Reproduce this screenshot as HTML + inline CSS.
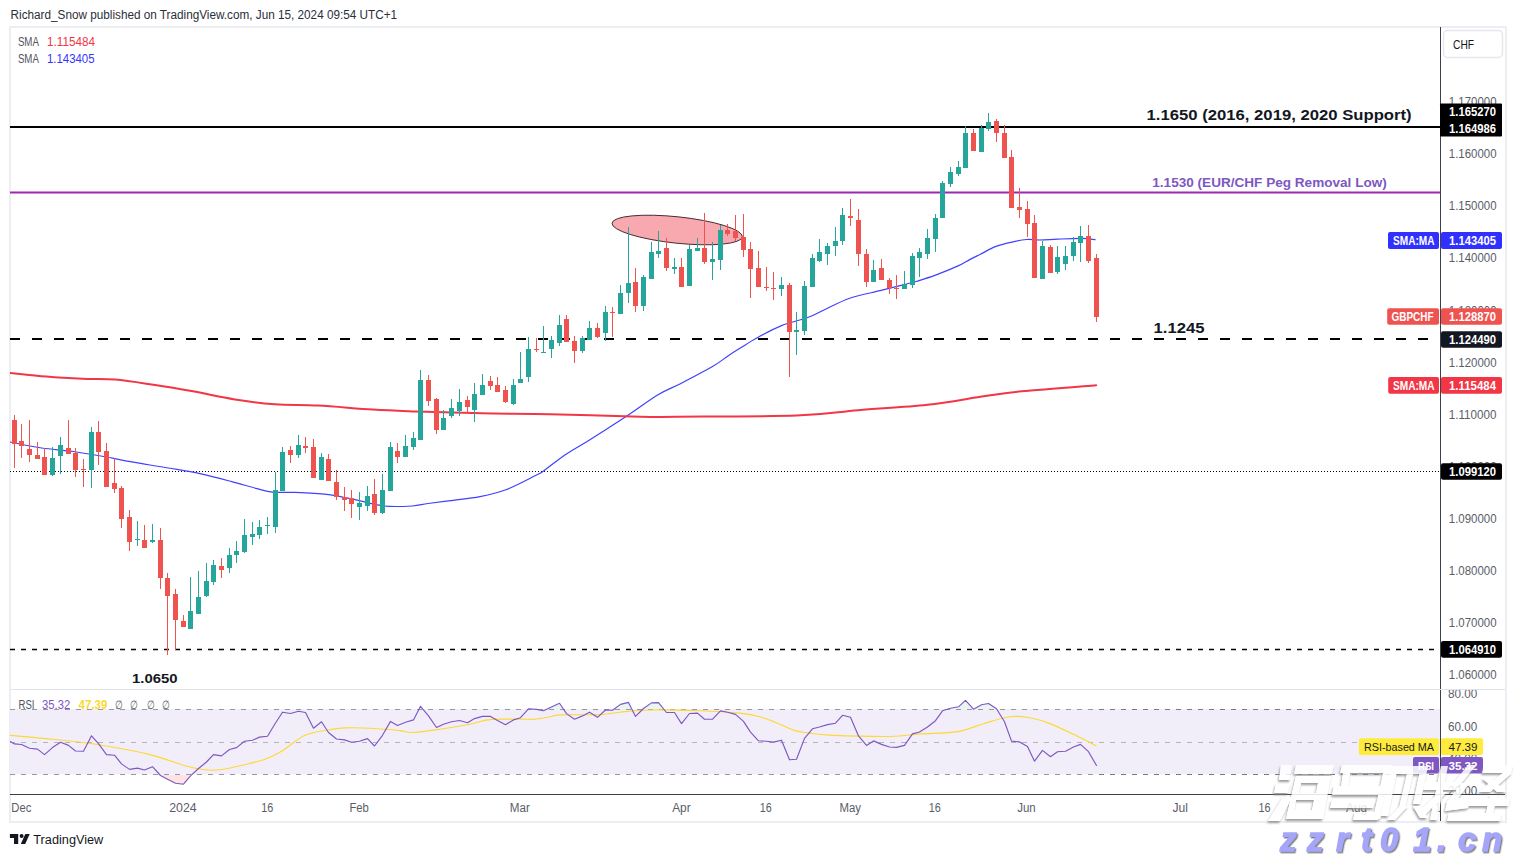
<!DOCTYPE html>
<html><head><meta charset="utf-8"><title>GBPCHF</title>
<style>html,body{margin:0;padding:0;background:#fff;width:1516px;height:857px;overflow:hidden;position:relative}</style>
</head><body>
<svg width="1516" height="857" viewBox="0 0 1516 857" style="position:absolute;left:0;top:0;font-family:'Liberation Sans', sans-serif">
<rect width="1516" height="857" fill="#ffffff"/>
<text x="10.6" y="18.9" font-size="12" fill="#2a2e39" font-weight="normal" text-anchor="start" textLength="386.5" lengthAdjust="spacingAndGlyphs">Richard_Snow published on TradingView.com, Jun 15, 2024 09:54 UTC+1</text>
<rect x="10" y="27" width="1496" height="795" fill="none" stroke="#eceef3" stroke-width="2"/>
<defs><clipPath id="main"><rect x="10" y="28" width="1430" height="661"/></clipPath><clipPath id="rsi"><rect x="10" y="690" width="1430" height="104"/></clipPath></defs>
<g clip-path="url(#main)">
<line x1="10" y1="127" x2="1440" y2="127" stroke="#000" stroke-width="2"/>
<line x1="10" y1="192.5" x2="1440" y2="192.5" stroke="#9c27b0" stroke-width="2"/>
<line x1="10" y1="339" x2="1440" y2="339" stroke="#000" stroke-width="2" stroke-dasharray="10 12"/>
<line x1="10" y1="471.5" x2="1440" y2="471.5" stroke="#000" stroke-width="1" stroke-dasharray="1 2"/>
<line x1="10" y1="649.5" x2="1440" y2="649.5" stroke="#000" stroke-width="1.6" stroke-dasharray="5 6"/>
<ellipse cx="677.2" cy="230" rx="65.5" ry="13.2" transform="rotate(6 677.2 230)" fill="#f8a9b0" stroke="#3b2226" stroke-width="0.9"/>
<path d="M10.0,442.0 C15.3,443.0 31.2,446.4 41.7,448.0 C52.2,449.6 61.7,449.9 73.3,451.5 C84.9,453.1 101.8,456.2 111.3,457.9 C120.8,459.6 120.8,460.0 130.3,461.7 C139.8,463.4 156.7,466.0 168.3,468.0 C179.9,470.0 189.4,471.4 200.0,473.7 C210.6,476.0 222.2,479.1 231.7,481.6 C241.2,484.1 250.2,486.9 257.0,488.6 C263.9,490.4 266.5,491.5 272.8,492.1 C279.1,492.7 286.0,492.0 295.0,492.4 C304.0,492.8 318.8,493.5 326.7,494.3 C334.6,495.1 337.2,496.1 342.5,497.1 C347.8,498.1 351.4,498.8 358.3,500.3 C365.2,501.8 374.7,505.1 383.7,506.0 C392.7,506.9 404.8,506.4 412.2,506.0 C419.6,505.6 421.1,504.4 428.0,503.5 C434.9,502.6 444.6,501.4 453.3,500.3 C462.0,499.2 471.2,498.4 480.0,496.7 C488.8,494.9 496.5,493.3 505.8,489.8 C515.1,486.3 529.3,478.6 535.6,475.5 C541.9,472.4 538.5,474.5 543.5,471.0 C548.5,467.5 557.7,459.8 565.3,454.7 C572.9,449.6 578.9,446.6 589.1,440.2 C599.4,433.8 615.4,423.5 626.8,416.0 C638.2,408.5 648.7,400.4 657.6,395.0 C666.5,389.6 671.3,388.4 680.4,383.7 C689.5,379.0 704.2,371.4 712.1,366.8 C720.0,362.2 723.4,359.0 728.0,355.9 C732.6,352.8 735.1,351.3 740.0,348.3 C744.9,345.3 750.2,341.6 757.1,337.8 C764.0,334.0 773.0,329.0 781.5,325.6 C790.0,322.2 801.0,320.0 808.3,317.3 C815.6,314.6 818.5,312.4 825.4,309.2 C832.3,306.0 840.7,301.3 849.8,298.2 C858.9,295.1 871.5,292.8 880.0,290.7 C888.5,288.6 895.0,287.0 901.1,285.4 C907.2,283.8 911.3,282.9 916.9,281.2 C922.5,279.5 928.0,277.9 934.9,275.4 C941.8,272.8 952.3,268.5 958.1,265.9 C963.9,263.3 966.0,261.5 969.7,259.6 C973.4,257.7 975.9,256.5 980.3,254.3 C984.7,252.1 990.8,248.4 996.1,246.4 C1001.4,244.4 1006.8,243.2 1011.9,242.1 C1017.0,240.9 1022.0,239.8 1026.7,239.5 C1031.4,239.2 1034.9,240.1 1040.0,240.0 C1045.1,239.9 1050.3,239.5 1057.3,239.2 C1064.2,238.9 1075.4,238.3 1081.7,238.4 C1088.0,238.5 1092.9,239.4 1095.1,239.6" fill="none" stroke="#4040ff" stroke-width="1.2" stroke-linecap="round"/>
<path d="M10.0,373.0 C16.1,373.6 34.2,375.6 46.3,376.6 C58.4,377.6 71.1,378.3 82.6,378.8 C94.1,379.3 103.1,378.5 115.2,379.5 C127.3,380.5 142.4,383.1 155.1,385.0 C167.8,386.9 178.1,388.7 191.4,391.1 C204.7,393.5 221.1,397.3 235.0,399.5 C248.9,401.7 261.0,403.2 274.9,404.2 C288.8,405.2 302.1,404.7 318.4,405.6 C334.7,406.5 356.5,408.6 372.8,409.6 C389.1,410.6 398.2,410.8 416.4,411.4 C434.5,412.0 459.4,412.8 481.7,413.3 C504.0,413.8 523.5,413.6 550.0,414.2 C576.5,414.8 619.5,416.3 640.7,416.7 C661.9,417.1 651.0,416.9 677.0,416.7 C703.0,416.5 766.5,416.7 796.7,415.6 C826.9,414.5 836.6,412.0 858.4,410.2 C880.2,408.4 906.2,407.2 927.4,404.8 C948.6,402.4 969.7,398.2 985.4,396.0 C1001.1,393.8 1003.2,393.1 1021.7,391.3 C1040.2,389.5 1083.7,386.2 1096.1,385.2" fill="none" stroke="#f23645" stroke-width="2" stroke-linecap="round"/>
<rect x="14" y="415" width="1" height="53" fill="#ef5350"/>
<rect x="12" y="420" width="5" height="24" fill="#ef5350"/>
<rect x="21" y="424" width="1" height="34" fill="#ef5350"/>
<rect x="19" y="441" width="5" height="5" fill="#ef5350"/>
<rect x="29" y="420" width="1" height="42" fill="#ef5350"/>
<rect x="27" y="449" width="5" height="6" fill="#ef5350"/>
<rect x="37" y="442" width="1" height="17" fill="#ef5350"/>
<rect x="35" y="455" width="5" height="4" fill="#ef5350"/>
<rect x="44" y="448" width="1" height="27" fill="#ef5350"/>
<rect x="42" y="457" width="5" height="18" fill="#ef5350"/>
<rect x="52" y="447" width="1" height="29" fill="#26a69a"/>
<rect x="50" y="458" width="5" height="17" fill="#26a69a"/>
<rect x="60" y="437" width="1" height="37" fill="#26a69a"/>
<rect x="58" y="445" width="5" height="11" fill="#26a69a"/>
<rect x="68" y="420" width="1" height="34" fill="#ef5350"/>
<rect x="66" y="448" width="5" height="6" fill="#ef5350"/>
<rect x="75" y="448" width="1" height="29" fill="#ef5350"/>
<rect x="73" y="453" width="5" height="17" fill="#ef5350"/>
<rect x="83" y="459" width="1" height="28" fill="#ef5350"/>
<rect x="81" y="469" width="5" height="1" fill="#ef5350"/>
<rect x="91" y="427" width="1" height="61" fill="#26a69a"/>
<rect x="89" y="432" width="5" height="38" fill="#26a69a"/>
<rect x="98" y="421" width="1" height="44" fill="#ef5350"/>
<rect x="96" y="432" width="5" height="20" fill="#ef5350"/>
<rect x="106" y="443" width="1" height="44" fill="#ef5350"/>
<rect x="104" y="451" width="5" height="36" fill="#ef5350"/>
<rect x="114" y="458" width="1" height="35" fill="#ef5350"/>
<rect x="112" y="483" width="5" height="6" fill="#ef5350"/>
<rect x="121" y="486" width="1" height="42" fill="#ef5350"/>
<rect x="119" y="488" width="5" height="31" fill="#ef5350"/>
<rect x="129" y="510" width="1" height="41" fill="#ef5350"/>
<rect x="127" y="517" width="5" height="25" fill="#ef5350"/>
<rect x="137" y="521" width="1" height="25" fill="#26a69a"/>
<rect x="135" y="539" width="5" height="1" fill="#26a69a"/>
<rect x="144" y="525" width="1" height="23" fill="#ef5350"/>
<rect x="142" y="540" width="5" height="8" fill="#ef5350"/>
<rect x="152" y="524" width="1" height="19" fill="#26a69a"/>
<rect x="150" y="540" width="5" height="2" fill="#26a69a"/>
<rect x="160" y="528" width="1" height="61" fill="#ef5350"/>
<rect x="158" y="540" width="5" height="38" fill="#ef5350"/>
<rect x="167" y="573" width="1" height="82" fill="#ef5350"/>
<rect x="165" y="578" width="5" height="18" fill="#ef5350"/>
<rect x="175" y="589" width="1" height="61" fill="#ef5350"/>
<rect x="173" y="594" width="5" height="26" fill="#ef5350"/>
<rect x="183" y="615" width="1" height="12" fill="#ef5350"/>
<rect x="181" y="621" width="5" height="6" fill="#ef5350"/>
<rect x="190" y="577" width="1" height="52" fill="#26a69a"/>
<rect x="188" y="611" width="5" height="18" fill="#26a69a"/>
<rect x="198" y="571" width="1" height="43" fill="#26a69a"/>
<rect x="196" y="597" width="5" height="17" fill="#26a69a"/>
<rect x="206" y="563" width="1" height="34" fill="#26a69a"/>
<rect x="204" y="581" width="5" height="15" fill="#26a69a"/>
<rect x="213" y="560" width="1" height="25" fill="#26a69a"/>
<rect x="211" y="565" width="5" height="17" fill="#26a69a"/>
<rect x="221" y="558" width="1" height="20" fill="#ef5350"/>
<rect x="219" y="566" width="5" height="4" fill="#ef5350"/>
<rect x="229" y="548" width="1" height="25" fill="#26a69a"/>
<rect x="227" y="555" width="5" height="13" fill="#26a69a"/>
<rect x="236" y="541" width="1" height="22" fill="#26a69a"/>
<rect x="234" y="551" width="5" height="4" fill="#26a69a"/>
<rect x="244" y="519" width="1" height="34" fill="#26a69a"/>
<rect x="242" y="535" width="5" height="17" fill="#26a69a"/>
<rect x="252" y="522" width="1" height="23" fill="#26a69a"/>
<rect x="250" y="534" width="5" height="3" fill="#26a69a"/>
<rect x="259" y="520" width="1" height="19" fill="#26a69a"/>
<rect x="257" y="527" width="5" height="8" fill="#26a69a"/>
<rect x="267" y="517" width="1" height="17" fill="#26a69a"/>
<rect x="265" y="525" width="5" height="1" fill="#26a69a"/>
<rect x="275" y="472" width="1" height="61" fill="#26a69a"/>
<rect x="273" y="490" width="5" height="37" fill="#26a69a"/>
<rect x="282" y="447" width="1" height="44" fill="#26a69a"/>
<rect x="280" y="452" width="5" height="39" fill="#26a69a"/>
<rect x="290" y="446" width="1" height="17" fill="#ef5350"/>
<rect x="288" y="450" width="5" height="5" fill="#ef5350"/>
<rect x="298" y="435" width="1" height="23" fill="#26a69a"/>
<rect x="296" y="445" width="5" height="10" fill="#26a69a"/>
<rect x="305" y="437" width="1" height="16" fill="#ef5350"/>
<rect x="303" y="446" width="5" height="2" fill="#ef5350"/>
<rect x="313" y="439" width="1" height="39" fill="#ef5350"/>
<rect x="311" y="447" width="5" height="31" fill="#ef5350"/>
<rect x="321" y="453" width="1" height="27" fill="#26a69a"/>
<rect x="319" y="457" width="5" height="23" fill="#26a69a"/>
<rect x="328" y="454" width="1" height="27" fill="#ef5350"/>
<rect x="326" y="459" width="5" height="22" fill="#ef5350"/>
<rect x="336" y="470" width="1" height="30" fill="#ef5350"/>
<rect x="334" y="482" width="5" height="15" fill="#ef5350"/>
<rect x="344" y="487" width="1" height="24" fill="#ef5350"/>
<rect x="342" y="497" width="5" height="3" fill="#ef5350"/>
<rect x="351" y="490" width="1" height="28" fill="#ef5350"/>
<rect x="349" y="498" width="5" height="6" fill="#ef5350"/>
<rect x="359" y="492" width="1" height="28" fill="#26a69a"/>
<rect x="357" y="503" width="5" height="4" fill="#26a69a"/>
<rect x="367" y="486" width="1" height="25" fill="#26a69a"/>
<rect x="365" y="496" width="5" height="10" fill="#26a69a"/>
<rect x="374" y="479" width="1" height="36" fill="#ef5350"/>
<rect x="372" y="494" width="5" height="19" fill="#ef5350"/>
<rect x="382" y="474" width="1" height="40" fill="#26a69a"/>
<rect x="380" y="490" width="5" height="23" fill="#26a69a"/>
<rect x="390" y="442" width="1" height="49" fill="#26a69a"/>
<rect x="388" y="447" width="5" height="44" fill="#26a69a"/>
<rect x="397" y="443" width="1" height="20" fill="#ef5350"/>
<rect x="395" y="451" width="5" height="6" fill="#ef5350"/>
<rect x="405" y="435" width="1" height="22" fill="#26a69a"/>
<rect x="403" y="446" width="5" height="11" fill="#26a69a"/>
<rect x="413" y="432" width="1" height="18" fill="#26a69a"/>
<rect x="411" y="438" width="5" height="9" fill="#26a69a"/>
<rect x="420" y="370" width="1" height="70" fill="#26a69a"/>
<rect x="418" y="380" width="5" height="60" fill="#26a69a"/>
<rect x="428" y="375" width="1" height="31" fill="#ef5350"/>
<rect x="426" y="380" width="5" height="21" fill="#ef5350"/>
<rect x="436" y="398" width="1" height="36" fill="#ef5350"/>
<rect x="434" y="399" width="5" height="31" fill="#ef5350"/>
<rect x="443" y="410" width="1" height="20" fill="#26a69a"/>
<rect x="441" y="418" width="5" height="12" fill="#26a69a"/>
<rect x="451" y="399" width="1" height="19" fill="#26a69a"/>
<rect x="449" y="408" width="5" height="8" fill="#26a69a"/>
<rect x="459" y="389" width="1" height="27" fill="#26a69a"/>
<rect x="457" y="402" width="5" height="9" fill="#26a69a"/>
<rect x="467" y="396" width="1" height="18" fill="#ef5350"/>
<rect x="465" y="400" width="5" height="7" fill="#ef5350"/>
<rect x="474" y="383" width="1" height="39" fill="#26a69a"/>
<rect x="472" y="394" width="5" height="16" fill="#26a69a"/>
<rect x="482" y="374" width="1" height="21" fill="#26a69a"/>
<rect x="480" y="385" width="5" height="10" fill="#26a69a"/>
<rect x="490" y="376" width="1" height="14" fill="#ef5350"/>
<rect x="488" y="381" width="5" height="5" fill="#ef5350"/>
<rect x="497" y="377" width="1" height="15" fill="#ef5350"/>
<rect x="495" y="385" width="5" height="7" fill="#ef5350"/>
<rect x="505" y="386" width="1" height="17" fill="#ef5350"/>
<rect x="503" y="390" width="5" height="12" fill="#ef5350"/>
<rect x="513" y="379" width="1" height="26" fill="#26a69a"/>
<rect x="511" y="385" width="5" height="19" fill="#26a69a"/>
<rect x="520" y="352" width="1" height="31" fill="#26a69a"/>
<rect x="518" y="379" width="5" height="4" fill="#26a69a"/>
<rect x="528" y="337" width="1" height="45" fill="#26a69a"/>
<rect x="526" y="349" width="5" height="28" fill="#26a69a"/>
<rect x="536" y="338" width="1" height="14" fill="#ef5350"/>
<rect x="534" y="349" width="5" height="1" fill="#ef5350"/>
<rect x="543" y="326" width="1" height="27" fill="#26a69a"/>
<rect x="541" y="352" width="5" height="1" fill="#26a69a"/>
<rect x="551" y="336" width="1" height="22" fill="#26a69a"/>
<rect x="549" y="340" width="5" height="9" fill="#26a69a"/>
<rect x="559" y="315" width="1" height="31" fill="#26a69a"/>
<rect x="557" y="325" width="5" height="18" fill="#26a69a"/>
<rect x="566" y="315" width="1" height="27" fill="#ef5350"/>
<rect x="564" y="319" width="5" height="23" fill="#ef5350"/>
<rect x="574" y="336" width="1" height="27" fill="#ef5350"/>
<rect x="572" y="341" width="5" height="10" fill="#ef5350"/>
<rect x="582" y="336" width="1" height="17" fill="#26a69a"/>
<rect x="580" y="338" width="5" height="13" fill="#26a69a"/>
<rect x="589" y="321" width="1" height="19" fill="#26a69a"/>
<rect x="587" y="328" width="5" height="12" fill="#26a69a"/>
<rect x="597" y="323" width="1" height="15" fill="#ef5350"/>
<rect x="595" y="328" width="5" height="9" fill="#ef5350"/>
<rect x="605" y="306" width="1" height="35" fill="#26a69a"/>
<rect x="603" y="312" width="5" height="21" fill="#26a69a"/>
<rect x="612" y="307" width="1" height="30" fill="#ef5350"/>
<rect x="610" y="312" width="5" height="1" fill="#ef5350"/>
<rect x="620" y="285" width="1" height="29" fill="#26a69a"/>
<rect x="618" y="293" width="5" height="21" fill="#26a69a"/>
<rect x="628" y="227" width="1" height="76" fill="#26a69a"/>
<rect x="626" y="283" width="5" height="10" fill="#26a69a"/>
<rect x="635" y="268" width="1" height="44" fill="#ef5350"/>
<rect x="633" y="282" width="5" height="24" fill="#ef5350"/>
<rect x="643" y="275" width="1" height="36" fill="#26a69a"/>
<rect x="641" y="277" width="5" height="29" fill="#26a69a"/>
<rect x="651" y="242" width="1" height="37" fill="#26a69a"/>
<rect x="649" y="252" width="5" height="27" fill="#26a69a"/>
<rect x="658" y="231" width="1" height="27" fill="#26a69a"/>
<rect x="656" y="251" width="5" height="3" fill="#26a69a"/>
<rect x="666" y="238" width="1" height="33" fill="#ef5350"/>
<rect x="664" y="248" width="5" height="20" fill="#ef5350"/>
<rect x="674" y="258" width="1" height="16" fill="#26a69a"/>
<rect x="672" y="267" width="5" height="2" fill="#26a69a"/>
<rect x="681" y="258" width="1" height="29" fill="#ef5350"/>
<rect x="679" y="267" width="5" height="20" fill="#ef5350"/>
<rect x="689" y="245" width="1" height="41" fill="#26a69a"/>
<rect x="687" y="249" width="5" height="37" fill="#26a69a"/>
<rect x="697" y="238" width="1" height="13" fill="#26a69a"/>
<rect x="695" y="248" width="5" height="3" fill="#26a69a"/>
<rect x="704" y="213" width="1" height="51" fill="#ef5350"/>
<rect x="702" y="248" width="5" height="14" fill="#ef5350"/>
<rect x="712" y="242" width="1" height="38" fill="#26a69a"/>
<rect x="710" y="259" width="5" height="3" fill="#26a69a"/>
<rect x="720" y="225" width="1" height="45" fill="#26a69a"/>
<rect x="718" y="230" width="5" height="30" fill="#26a69a"/>
<rect x="727" y="224" width="1" height="12" fill="#ef5350"/>
<rect x="725" y="230" width="5" height="4" fill="#ef5350"/>
<rect x="735" y="215" width="1" height="26" fill="#ef5350"/>
<rect x="733" y="231" width="5" height="7" fill="#ef5350"/>
<rect x="743" y="214" width="1" height="43" fill="#ef5350"/>
<rect x="741" y="237" width="5" height="13" fill="#ef5350"/>
<rect x="750" y="242" width="1" height="56" fill="#ef5350"/>
<rect x="748" y="249" width="5" height="20" fill="#ef5350"/>
<rect x="758" y="251" width="1" height="36" fill="#ef5350"/>
<rect x="756" y="268" width="5" height="19" fill="#ef5350"/>
<rect x="766" y="267" width="1" height="24" fill="#ef5350"/>
<rect x="764" y="287" width="5" height="1" fill="#ef5350"/>
<rect x="773" y="272" width="1" height="28" fill="#ef5350"/>
<rect x="771" y="288" width="5" height="1" fill="#ef5350"/>
<rect x="781" y="277" width="1" height="19" fill="#26a69a"/>
<rect x="779" y="285" width="5" height="4" fill="#26a69a"/>
<rect x="789" y="283" width="1" height="94" fill="#ef5350"/>
<rect x="787" y="285" width="5" height="47" fill="#ef5350"/>
<rect x="796" y="312" width="1" height="43" fill="#26a69a"/>
<rect x="794" y="330" width="5" height="2" fill="#26a69a"/>
<rect x="804" y="281" width="1" height="54" fill="#26a69a"/>
<rect x="802" y="286" width="5" height="45" fill="#26a69a"/>
<rect x="812" y="254" width="1" height="33" fill="#26a69a"/>
<rect x="810" y="258" width="5" height="29" fill="#26a69a"/>
<rect x="819" y="239" width="1" height="23" fill="#26a69a"/>
<rect x="817" y="252" width="5" height="9" fill="#26a69a"/>
<rect x="827" y="243" width="1" height="22" fill="#26a69a"/>
<rect x="825" y="246" width="5" height="8" fill="#26a69a"/>
<rect x="835" y="227" width="1" height="29" fill="#26a69a"/>
<rect x="833" y="241" width="5" height="5" fill="#26a69a"/>
<rect x="842" y="208" width="1" height="37" fill="#26a69a"/>
<rect x="840" y="215" width="5" height="26" fill="#26a69a"/>
<rect x="850" y="199" width="1" height="27" fill="#ef5350"/>
<rect x="848" y="216" width="5" height="2" fill="#ef5350"/>
<rect x="858" y="209" width="1" height="57" fill="#ef5350"/>
<rect x="856" y="220" width="5" height="34" fill="#ef5350"/>
<rect x="866" y="249" width="1" height="38" fill="#ef5350"/>
<rect x="864" y="254" width="5" height="28" fill="#ef5350"/>
<rect x="873" y="260" width="1" height="22" fill="#26a69a"/>
<rect x="871" y="270" width="5" height="12" fill="#26a69a"/>
<rect x="881" y="259" width="1" height="21" fill="#ef5350"/>
<rect x="879" y="268" width="5" height="12" fill="#ef5350"/>
<rect x="889" y="278" width="1" height="16" fill="#ef5350"/>
<rect x="887" y="280" width="5" height="8" fill="#ef5350"/>
<rect x="896" y="275" width="1" height="24" fill="#ef5350"/>
<rect x="894" y="288" width="5" height="1" fill="#ef5350"/>
<rect x="904" y="271" width="1" height="18" fill="#26a69a"/>
<rect x="902" y="284" width="5" height="5" fill="#26a69a"/>
<rect x="912" y="253" width="1" height="35" fill="#26a69a"/>
<rect x="910" y="256" width="5" height="29" fill="#26a69a"/>
<rect x="919" y="248" width="1" height="29" fill="#26a69a"/>
<rect x="917" y="252" width="5" height="6" fill="#26a69a"/>
<rect x="927" y="229" width="1" height="30" fill="#26a69a"/>
<rect x="925" y="238" width="5" height="16" fill="#26a69a"/>
<rect x="935" y="214" width="1" height="38" fill="#26a69a"/>
<rect x="933" y="218" width="5" height="21" fill="#26a69a"/>
<rect x="942" y="181" width="1" height="37" fill="#26a69a"/>
<rect x="940" y="183" width="5" height="35" fill="#26a69a"/>
<rect x="950" y="167" width="1" height="20" fill="#26a69a"/>
<rect x="948" y="172" width="5" height="12" fill="#26a69a"/>
<rect x="958" y="161" width="1" height="15" fill="#26a69a"/>
<rect x="956" y="167" width="5" height="7" fill="#26a69a"/>
<rect x="965" y="126" width="1" height="42" fill="#26a69a"/>
<rect x="963" y="133" width="5" height="35" fill="#26a69a"/>
<rect x="973" y="129" width="1" height="22" fill="#ef5350"/>
<rect x="971" y="133" width="5" height="18" fill="#ef5350"/>
<rect x="981" y="125" width="1" height="27" fill="#26a69a"/>
<rect x="979" y="128" width="5" height="24" fill="#26a69a"/>
<rect x="988" y="113" width="1" height="18" fill="#26a69a"/>
<rect x="986" y="122" width="5" height="7" fill="#26a69a"/>
<rect x="996" y="119" width="1" height="23" fill="#ef5350"/>
<rect x="994" y="121" width="5" height="12" fill="#ef5350"/>
<rect x="1004" y="125" width="1" height="33" fill="#ef5350"/>
<rect x="1002" y="133" width="5" height="25" fill="#ef5350"/>
<rect x="1011" y="150" width="1" height="58" fill="#ef5350"/>
<rect x="1009" y="157" width="5" height="51" fill="#ef5350"/>
<rect x="1019" y="188" width="1" height="30" fill="#ef5350"/>
<rect x="1017" y="207" width="5" height="3" fill="#ef5350"/>
<rect x="1027" y="201" width="1" height="36" fill="#ef5350"/>
<rect x="1025" y="209" width="5" height="15" fill="#ef5350"/>
<rect x="1034" y="215" width="1" height="63" fill="#ef5350"/>
<rect x="1032" y="223" width="5" height="55" fill="#ef5350"/>
<rect x="1042" y="241" width="1" height="38" fill="#26a69a"/>
<rect x="1040" y="246" width="5" height="33" fill="#26a69a"/>
<rect x="1050" y="245" width="1" height="28" fill="#ef5350"/>
<rect x="1048" y="247" width="5" height="26" fill="#ef5350"/>
<rect x="1057" y="246" width="1" height="28" fill="#26a69a"/>
<rect x="1055" y="257" width="5" height="15" fill="#26a69a"/>
<rect x="1065" y="246" width="1" height="24" fill="#26a69a"/>
<rect x="1063" y="256" width="5" height="8" fill="#26a69a"/>
<rect x="1073" y="237" width="1" height="24" fill="#26a69a"/>
<rect x="1071" y="242" width="5" height="14" fill="#26a69a"/>
<rect x="1080" y="226" width="1" height="36" fill="#26a69a"/>
<rect x="1078" y="236" width="5" height="7" fill="#26a69a"/>
<rect x="1088" y="225" width="1" height="38" fill="#ef5350"/>
<rect x="1086" y="236" width="5" height="25" fill="#ef5350"/>
<rect x="1096" y="254" width="1" height="68" fill="#ef5350"/>
<rect x="1094" y="258" width="5" height="59" fill="#ef5350"/>
</g>
<text x="1146.6" y="120" font-size="14" fill="#131722" font-weight="bold" text-anchor="start" textLength="265" lengthAdjust="spacingAndGlyphs">1.1650 (2016, 2019, 2020 Support)</text>
<text x="1152.3" y="187" font-size="13.5" fill="#7e57c2" font-weight="bold" text-anchor="start" textLength="234.5" lengthAdjust="spacingAndGlyphs">1.1530 (EUR/CHF Peg Removal Low)</text>
<text x="1153.5" y="333" font-size="15" fill="#131722" font-weight="bold" text-anchor="start" textLength="51" lengthAdjust="spacingAndGlyphs">1.1245</text>
<text x="132" y="682.8" font-size="13" fill="#131722" font-weight="bold" text-anchor="start" textLength="45.5" lengthAdjust="spacingAndGlyphs">1.0650</text>
<text x="17.9" y="46.2" font-size="12" fill="#50535e" font-weight="normal" text-anchor="start" textLength="21" lengthAdjust="spacingAndGlyphs">SMA</text>
<text x="47" y="46.2" font-size="12" fill="#f23645" font-weight="normal" text-anchor="start" textLength="48" lengthAdjust="spacingAndGlyphs">1.115484</text>
<text x="17.9" y="62.5" font-size="12" fill="#50535e" font-weight="normal" text-anchor="start" textLength="21" lengthAdjust="spacingAndGlyphs">SMA</text>
<text x="47" y="62.5" font-size="12" fill="#3434ff" font-weight="normal" text-anchor="start" textLength="47.5" lengthAdjust="spacingAndGlyphs">1.143405</text>
<line x1="1440.5" y1="27" x2="1440.5" y2="821" stroke="#3d404a" stroke-width="1"/>
<rect x="1443.5" y="30.5" width="59" height="27" rx="4" fill="#fff" stroke="#e6e8ee" stroke-width="1.5"/>
<text x="1453" y="49" font-size="12" fill="#131722" font-weight="normal" text-anchor="start" textLength="21" lengthAdjust="spacingAndGlyphs">CHF</text>
<text x="1448.8" y="679.3" font-size="13" fill="#5a5d68" font-weight="normal" text-anchor="start" textLength="47.7" lengthAdjust="spacingAndGlyphs">1.060000</text>
<text x="1448.8" y="627.2" font-size="13" fill="#5a5d68" font-weight="normal" text-anchor="start" textLength="47.7" lengthAdjust="spacingAndGlyphs">1.070000</text>
<text x="1448.8" y="575.1" font-size="13" fill="#5a5d68" font-weight="normal" text-anchor="start" textLength="47.7" lengthAdjust="spacingAndGlyphs">1.080000</text>
<text x="1448.8" y="522.9" font-size="13" fill="#5a5d68" font-weight="normal" text-anchor="start" textLength="47.7" lengthAdjust="spacingAndGlyphs">1.090000</text>
<text x="1448.8" y="470.8" font-size="13" fill="#5a5d68" font-weight="normal" text-anchor="start" textLength="47.7" lengthAdjust="spacingAndGlyphs">1.100000</text>
<text x="1448.8" y="418.7" font-size="13" fill="#5a5d68" font-weight="normal" text-anchor="start" textLength="47.7" lengthAdjust="spacingAndGlyphs">1.110000</text>
<text x="1448.8" y="366.6" font-size="13" fill="#5a5d68" font-weight="normal" text-anchor="start" textLength="47.7" lengthAdjust="spacingAndGlyphs">1.120000</text>
<text x="1448.8" y="314.5" font-size="13" fill="#5a5d68" font-weight="normal" text-anchor="start" textLength="47.7" lengthAdjust="spacingAndGlyphs">1.130000</text>
<text x="1448.8" y="262.3" font-size="13" fill="#5a5d68" font-weight="normal" text-anchor="start" textLength="47.7" lengthAdjust="spacingAndGlyphs">1.140000</text>
<text x="1448.8" y="210.2" font-size="13" fill="#5a5d68" font-weight="normal" text-anchor="start" textLength="47.7" lengthAdjust="spacingAndGlyphs">1.150000</text>
<text x="1448.8" y="158.1" font-size="13" fill="#5a5d68" font-weight="normal" text-anchor="start" textLength="47.7" lengthAdjust="spacingAndGlyphs">1.160000</text>
<text x="1448.8" y="106.0" font-size="13" fill="#5a5d68" font-weight="normal" text-anchor="start" textLength="47.7" lengthAdjust="spacingAndGlyphs">1.170000</text>
<rect x="1440" y="103.4" width="62" height="33.0" rx="1" fill="#000"/>
<text x="1449" y="116.4" font-size="13" fill="#fff" font-weight="bold" text-anchor="start" textLength="47" lengthAdjust="spacingAndGlyphs">1.165270</text>
<text x="1449" y="133.4" font-size="13" fill="#fff" font-weight="bold" text-anchor="start" textLength="47" lengthAdjust="spacingAndGlyphs">1.164986</text>
<rect x="1388" y="232" width="51" height="17" rx="2" fill="#3030ff"/>
<rect x="1441" y="232" width="61" height="17" rx="2" fill="#3030ff"/>
<text x="1393" y="245.1" font-size="13" fill="#fff" font-weight="bold" text-anchor="start" textLength="41.5" lengthAdjust="spacingAndGlyphs">SMA:MA</text>
<text x="1449" y="245.1" font-size="13" fill="#fff" font-weight="bold" text-anchor="start" textLength="47" lengthAdjust="spacingAndGlyphs">1.143405</text>
<rect x="1387.2" y="308.2" width="51.799999999999955" height="16.5" rx="2" fill="#ef5350"/>
<rect x="1441" y="308.2" width="61" height="16.5" rx="2" fill="#ef5350"/>
<text x="1391.5" y="321.1" font-size="13" fill="#fff" font-weight="bold" text-anchor="start" textLength="42" lengthAdjust="spacingAndGlyphs">GBPCHF</text>
<text x="1449" y="321.1" font-size="13" fill="#fff" font-weight="bold" text-anchor="start" textLength="47" lengthAdjust="spacingAndGlyphs">1.128870</text>
<rect x="1441" y="331.3" width="61" height="16.5" rx="2" fill="#131722"/>
<text x="1449" y="344.1" font-size="13" fill="#fff" font-weight="bold" text-anchor="start" textLength="47" lengthAdjust="spacingAndGlyphs">1.124490</text>
<rect x="1388.2" y="377" width="50.799999999999955" height="16.69999999999999" rx="2" fill="#f23645"/>
<rect x="1441" y="377" width="61" height="16.69999999999999" rx="2" fill="#f23645"/>
<text x="1393" y="389.9" font-size="13" fill="#fff" font-weight="bold" text-anchor="start" textLength="41.5" lengthAdjust="spacingAndGlyphs">SMA:MA</text>
<text x="1449" y="389.9" font-size="13" fill="#fff" font-weight="bold" text-anchor="start" textLength="47" lengthAdjust="spacingAndGlyphs">1.115484</text>
<rect x="1441" y="463.2" width="61" height="16.600000000000023" rx="2" fill="#000"/>
<text x="1449" y="476.1" font-size="13" fill="#fff" font-weight="bold" text-anchor="start" textLength="47" lengthAdjust="spacingAndGlyphs">1.099120</text>
<rect x="1441" y="641" width="61" height="16.700000000000045" rx="2" fill="#000"/>
<text x="1449" y="653.9" font-size="13" fill="#fff" font-weight="bold" text-anchor="start" textLength="47" lengthAdjust="spacingAndGlyphs">1.064910</text>
<line x1="10" y1="689.5" x2="1505" y2="689.5" stroke="#e0e3eb" stroke-width="1"/>
<g clip-path="url(#rsi)">
<rect x="10" y="709" width="1430" height="65" fill="#f2eef9"/>
<line x1="10" y1="709.5" x2="1440" y2="709.5" stroke="#787b86" stroke-width="1" stroke-dasharray="5 6"/>
<line x1="10" y1="742.5" x2="1440" y2="742.5" stroke="#b2b5be" stroke-width="1" stroke-dasharray="5 6"/>
<line x1="10" y1="774.5" x2="1440" y2="774.5" stroke="#787b86" stroke-width="1" stroke-dasharray="5 6"/>
<defs><clipPath id="below30"><rect x="10" y="774.5" width="1430" height="20"/></clipPath><clipPath id="above70"><rect x="10" y="690" width="1430" height="19.5"/></clipPath></defs>
<polygon clip-path="url(#below30)" points="6.5,774.5 6.5,739.5 14.5,743.9 21.5,744.5 29.5,748.2 37.5,749.1 44.5,754.6 52.5,747.6 60.5,742.3 68.5,745.4 75.5,751.0 83.5,751.3 91.5,735.8 98.5,743.6 106.5,754.6 114.5,755.2 121.5,763.9 129.5,769.4 137.5,768.1 144.5,770.0 152.5,766.7 160.5,775.5 167.5,779.2 175.5,783.3 183.5,784.2 190.5,775.9 198.5,768.5 206.5,762.0 213.5,754.6 221.5,755.9 229.5,749.5 236.5,747.6 244.5,741.3 252.5,740.2 259.5,737.1 267.5,736.2 275.5,723.0 282.5,712.2 290.5,713.5 298.5,711.2 305.5,712.5 313.5,728.2 321.5,721.8 328.5,732.5 336.5,739.0 344.5,739.9 351.5,742.3 359.5,741.3 367.5,738.6 374.5,746.0 382.5,735.3 390.5,721.4 397.5,725.5 405.5,722.3 413.5,719.9 420.5,706.3 428.5,715.9 436.5,727.5 443.5,724.2 451.5,721.8 459.5,720.5 467.5,722.7 474.5,718.6 482.5,716.4 490.5,716.4 497.5,720.5 505.5,724.7 513.5,719.9 520.5,717.7 528.5,708.8 536.5,709.4 543.5,710.7 551.5,707.0 559.5,703.3 566.5,713.6 574.5,719.2 582.5,715.9 589.5,712.2 597.5,717.3 605.5,710.0 612.5,710.3 620.5,704.4 628.5,702.4 635.5,716.4 643.5,708.5 651.5,702.9 658.5,702.6 666.5,712.5 674.5,712.5 681.5,723.6 689.5,713.5 697.5,713.1 704.5,719.2 712.5,719.2 720.5,710.9 727.5,712.2 735.5,714.4 743.5,721.4 750.5,732.1 758.5,740.8 766.5,741.3 773.5,742.1 781.5,740.2 789.5,759.8 796.5,759.3 804.5,738.4 812.5,728.8 819.5,727.0 827.5,724.6 835.5,723.2 842.5,715.3 850.5,717.3 858.5,735.9 866.5,745.4 873.5,740.9 881.5,744.4 889.5,747.0 896.5,747.4 904.5,745.4 912.5,733.9 919.5,732.0 927.5,727.0 935.5,720.7 942.5,710.8 950.5,708.2 958.5,706.8 965.5,700.3 973.5,709.2 981.5,704.8 988.5,703.5 996.5,708.8 1004.5,721.7 1011.5,741.1 1019.5,741.9 1027.5,746.4 1034.5,761.2 1042.5,750.4 1050.5,756.7 1057.5,751.7 1065.5,751.3 1073.5,747.0 1080.5,744.4 1088.5,751.7 1096.5,765.5 1096.5,774.5" fill="#fde3e6"/>
<polygon clip-path="url(#above70)" points="6.5,709.5 6.5,739.5 14.5,743.9 21.5,744.5 29.5,748.2 37.5,749.1 44.5,754.6 52.5,747.6 60.5,742.3 68.5,745.4 75.5,751.0 83.5,751.3 91.5,735.8 98.5,743.6 106.5,754.6 114.5,755.2 121.5,763.9 129.5,769.4 137.5,768.1 144.5,770.0 152.5,766.7 160.5,775.5 167.5,779.2 175.5,783.3 183.5,784.2 190.5,775.9 198.5,768.5 206.5,762.0 213.5,754.6 221.5,755.9 229.5,749.5 236.5,747.6 244.5,741.3 252.5,740.2 259.5,737.1 267.5,736.2 275.5,723.0 282.5,712.2 290.5,713.5 298.5,711.2 305.5,712.5 313.5,728.2 321.5,721.8 328.5,732.5 336.5,739.0 344.5,739.9 351.5,742.3 359.5,741.3 367.5,738.6 374.5,746.0 382.5,735.3 390.5,721.4 397.5,725.5 405.5,722.3 413.5,719.9 420.5,706.3 428.5,715.9 436.5,727.5 443.5,724.2 451.5,721.8 459.5,720.5 467.5,722.7 474.5,718.6 482.5,716.4 490.5,716.4 497.5,720.5 505.5,724.7 513.5,719.9 520.5,717.7 528.5,708.8 536.5,709.4 543.5,710.7 551.5,707.0 559.5,703.3 566.5,713.6 574.5,719.2 582.5,715.9 589.5,712.2 597.5,717.3 605.5,710.0 612.5,710.3 620.5,704.4 628.5,702.4 635.5,716.4 643.5,708.5 651.5,702.9 658.5,702.6 666.5,712.5 674.5,712.5 681.5,723.6 689.5,713.5 697.5,713.1 704.5,719.2 712.5,719.2 720.5,710.9 727.5,712.2 735.5,714.4 743.5,721.4 750.5,732.1 758.5,740.8 766.5,741.3 773.5,742.1 781.5,740.2 789.5,759.8 796.5,759.3 804.5,738.4 812.5,728.8 819.5,727.0 827.5,724.6 835.5,723.2 842.5,715.3 850.5,717.3 858.5,735.9 866.5,745.4 873.5,740.9 881.5,744.4 889.5,747.0 896.5,747.4 904.5,745.4 912.5,733.9 919.5,732.0 927.5,727.0 935.5,720.7 942.5,710.8 950.5,708.2 958.5,706.8 965.5,700.3 973.5,709.2 981.5,704.8 988.5,703.5 996.5,708.8 1004.5,721.7 1011.5,741.1 1019.5,741.9 1027.5,746.4 1034.5,761.2 1042.5,750.4 1050.5,756.7 1057.5,751.7 1065.5,751.3 1073.5,747.0 1080.5,744.4 1088.5,751.7 1096.5,765.5 1096.5,709.5" fill="#e9f5f1"/>
<path d="M10.0,735.3 C17.5,736.0 40.0,737.9 55.0,739.5 C70.0,741.1 84.2,742.5 100.0,745.0 C115.8,747.5 135.8,751.1 150.0,754.6 C164.2,758.1 175.8,763.2 185.0,765.7 C194.2,768.2 199.2,769.1 205.0,769.8 C210.8,770.5 214.2,770.5 220.0,769.8 C225.8,769.1 232.5,767.5 240.0,765.7 C247.5,764.0 258.0,761.8 265.0,759.3 C272.0,756.8 275.3,755.0 282.0,751.0 C288.7,747.0 297.0,738.8 305.0,735.3 C313.0,731.8 323.3,730.9 330.0,729.7 C336.7,728.5 338.3,728.1 345.0,727.9 C351.7,727.6 360.8,727.8 370.0,728.2 C379.2,728.7 393.0,729.9 400.0,730.6 C407.0,731.3 405.3,732.7 412.0,732.5 C418.7,732.3 430.3,730.6 440.0,729.2 C449.7,727.8 461.7,725.8 470.0,724.2 C478.3,722.6 481.7,720.4 490.0,719.6 C498.3,718.8 512.5,719.3 520.0,719.2 C527.5,719.1 530.0,719.6 535.0,719.2 C540.0,718.8 545.8,717.5 550.0,716.8 C554.2,716.1 551.7,715.3 560.0,714.9 C568.3,714.5 590.0,715.0 600.0,714.6 C610.0,714.2 611.7,713.0 620.0,712.2 C628.3,711.4 636.7,710.2 650.0,710.0 C663.3,709.8 685.0,710.2 700.0,710.7 C715.0,711.2 730.0,712.1 740.0,713.1 C750.0,714.1 753.3,714.9 760.0,716.8 C766.7,718.6 774.2,721.9 780.0,724.2 C785.8,726.5 790.3,729.2 795.0,730.6 C799.7,732.0 802.2,732.1 808.0,732.9 C813.8,733.6 816.3,734.5 830.0,735.1 C843.7,735.7 875.0,736.7 890.0,736.5 C905.0,736.3 908.7,734.7 920.0,733.9 C931.3,733.1 947.2,733.4 958.0,731.6 C968.8,729.8 976.3,725.7 985.0,723.2 C993.7,720.7 1002.5,717.6 1010.0,716.7 C1017.5,715.8 1023.3,716.6 1030.0,717.7 C1036.7,718.9 1041.7,720.3 1050.0,723.6 C1058.3,726.9 1072.3,733.8 1080.0,737.5 C1087.7,741.2 1093.3,744.4 1096.0,745.8" fill="none" stroke="#fdd835" stroke-width="1.15" stroke-linecap="round"/>
<polyline points="6.5,739.5 14.5,743.9 21.5,744.5 29.5,748.2 37.5,749.1 44.5,754.6 52.5,747.6 60.5,742.3 68.5,745.4 75.5,751.0 83.5,751.3 91.5,735.8 98.5,743.6 106.5,754.6 114.5,755.2 121.5,763.9 129.5,769.4 137.5,768.1 144.5,770.0 152.5,766.7 160.5,775.5 167.5,779.2 175.5,783.3 183.5,784.2 190.5,775.9 198.5,768.5 206.5,762.0 213.5,754.6 221.5,755.9 229.5,749.5 236.5,747.6 244.5,741.3 252.5,740.2 259.5,737.1 267.5,736.2 275.5,723.0 282.5,712.2 290.5,713.5 298.5,711.2 305.5,712.5 313.5,728.2 321.5,721.8 328.5,732.5 336.5,739.0 344.5,739.9 351.5,742.3 359.5,741.3 367.5,738.6 374.5,746.0 382.5,735.3 390.5,721.4 397.5,725.5 405.5,722.3 413.5,719.9 420.5,706.3 428.5,715.9 436.5,727.5 443.5,724.2 451.5,721.8 459.5,720.5 467.5,722.7 474.5,718.6 482.5,716.4 490.5,716.4 497.5,720.5 505.5,724.7 513.5,719.9 520.5,717.7 528.5,708.8 536.5,709.4 543.5,710.7 551.5,707.0 559.5,703.3 566.5,713.6 574.5,719.2 582.5,715.9 589.5,712.2 597.5,717.3 605.5,710.0 612.5,710.3 620.5,704.4 628.5,702.4 635.5,716.4 643.5,708.5 651.5,702.9 658.5,702.6 666.5,712.5 674.5,712.5 681.5,723.6 689.5,713.5 697.5,713.1 704.5,719.2 712.5,719.2 720.5,710.9 727.5,712.2 735.5,714.4 743.5,721.4 750.5,732.1 758.5,740.8 766.5,741.3 773.5,742.1 781.5,740.2 789.5,759.8 796.5,759.3 804.5,738.4 812.5,728.8 819.5,727.0 827.5,724.6 835.5,723.2 842.5,715.3 850.5,717.3 858.5,735.9 866.5,745.4 873.5,740.9 881.5,744.4 889.5,747.0 896.5,747.4 904.5,745.4 912.5,733.9 919.5,732.0 927.5,727.0 935.5,720.7 942.5,710.8 950.5,708.2 958.5,706.8 965.5,700.3 973.5,709.2 981.5,704.8 988.5,703.5 996.5,708.8 1004.5,721.7 1011.5,741.1 1019.5,741.9 1027.5,746.4 1034.5,761.2 1042.5,750.4 1050.5,756.7 1057.5,751.7 1065.5,751.3 1073.5,747.0 1080.5,744.4 1088.5,751.7 1096.5,765.5" fill="none" stroke="#7e57c2" stroke-width="1.15" stroke-linejoin="round" stroke-linecap="round"/>
</g>
<text x="18.5" y="708.8" font-size="12" fill="#50535e" font-weight="normal" text-anchor="start" textLength="16" lengthAdjust="spacingAndGlyphs">RSI</text>
<text x="42" y="708.8" font-size="12" fill="#7e57c2" font-weight="normal" text-anchor="start" textLength="28.2" lengthAdjust="spacingAndGlyphs">35.32</text>
<text x="78.5" y="708.8" font-size="12" fill="#fdd835" font-weight="bold" text-anchor="start" textLength="29" lengthAdjust="spacingAndGlyphs">47.39</text>
<text x="115.4" y="708.8" font-size="12" fill="#50535e" font-weight="normal" text-anchor="start" textLength="7.4" lengthAdjust="spacingAndGlyphs">&#8709;</text>
<text x="130.2" y="708.8" font-size="12" fill="#50535e" font-weight="normal" text-anchor="start" textLength="7.4" lengthAdjust="spacingAndGlyphs">&#8709;</text>
<text x="146.8" y="708.8" font-size="12" fill="#50535e" font-weight="normal" text-anchor="start" textLength="7.4" lengthAdjust="spacingAndGlyphs">&#8709;</text>
<text x="161.6" y="708.8" font-size="12" fill="#50535e" font-weight="normal" text-anchor="start" textLength="7.4" lengthAdjust="spacingAndGlyphs">&#8709;</text>
<defs><clipPath id="rax"><rect x="1441" y="690" width="64" height="104"/></clipPath></defs>
<g clip-path="url(#rax)">
<text x="1448.1" y="697.6" font-size="13" fill="#5a5d68" font-weight="normal" text-anchor="start" textLength="29.2" lengthAdjust="spacingAndGlyphs">80.00</text>
<text x="1448.1" y="730.6" font-size="13" fill="#5a5d68" font-weight="normal" text-anchor="start" textLength="29.2" lengthAdjust="spacingAndGlyphs">60.00</text>
<text x="1448.1" y="762.6" font-size="13" fill="#5a5d68" font-weight="normal" text-anchor="start" textLength="29.2" lengthAdjust="spacingAndGlyphs">40.00</text>
<text x="1448.1" y="794.6" font-size="13" fill="#5a5d68" font-weight="normal" text-anchor="start" textLength="29.2" lengthAdjust="spacingAndGlyphs">20.00</text>
</g>
<rect x="1358.9" y="738.3" width="80.09999999999991" height="16.600000000000023" rx="2" fill="#ffeb3b"/>
<rect x="1441" y="738.3" width="42" height="16.600000000000023" rx="2" fill="#ffeb3b"/>
<text x="1364" y="750.6" font-size="11.5" fill="#131722" font-weight="normal" text-anchor="start" textLength="70" lengthAdjust="spacingAndGlyphs">RSI-based MA</text>
<text x="1448.5" y="750.6" font-size="11.5" fill="#131722" font-weight="normal" text-anchor="start" textLength="29" lengthAdjust="spacingAndGlyphs">47.39</text>
<rect x="1413" y="757" width="26" height="16.600000000000023" rx="2" fill="#7e57c2"/>
<rect x="1441" y="757" width="42" height="16.600000000000023" rx="2" fill="#7e57c2"/>
<text x="1418" y="769.5" font-size="11.5" fill="#fff" font-weight="bold" text-anchor="start" textLength="16" lengthAdjust="spacingAndGlyphs">RSI</text>
<text x="1448.5" y="769.5" font-size="11.5" fill="#fff" font-weight="bold" text-anchor="start" textLength="29" lengthAdjust="spacingAndGlyphs">35.32</text>
<line x1="10" y1="794.5" x2="1505" y2="794.5" stroke="#3d404a" stroke-width="1"/>
<defs><clipPath id="tax"><rect x="10" y="795" width="1430" height="26"/></clipPath></defs>
<g clip-path="url(#tax)"><text x="1435" y="811.9" font-size="12.5" fill="#5a5d68" font-weight="normal" text-anchor="start" textLength="12" lengthAdjust="spacingAndGlyphs">16</text></g>
<text x="11.3" y="811.9" font-size="12.5" fill="#5a5d68" font-weight="normal" text-anchor="start" textLength="20" lengthAdjust="spacingAndGlyphs">Dec</text>
<text x="169.2" y="811.9" font-size="12.5" fill="#5a5d68" font-weight="normal" text-anchor="start" textLength="27.5" lengthAdjust="spacingAndGlyphs">2024</text>
<text x="261.2" y="811.9" font-size="12.5" fill="#5a5d68" font-weight="normal" text-anchor="start" textLength="12" lengthAdjust="spacingAndGlyphs">16</text>
<text x="349.4" y="811.9" font-size="12.5" fill="#5a5d68" font-weight="normal" text-anchor="start" textLength="19.5" lengthAdjust="spacingAndGlyphs">Feb</text>
<text x="509.8" y="811.9" font-size="12.5" fill="#5a5d68" font-weight="normal" text-anchor="start" textLength="20" lengthAdjust="spacingAndGlyphs">Mar</text>
<text x="672.2" y="811.9" font-size="12.5" fill="#5a5d68" font-weight="normal" text-anchor="start" textLength="18.5" lengthAdjust="spacingAndGlyphs">Apr</text>
<text x="759.8" y="811.9" font-size="12.5" fill="#5a5d68" font-weight="normal" text-anchor="start" textLength="12" lengthAdjust="spacingAndGlyphs">16</text>
<text x="839.5" y="811.9" font-size="12.5" fill="#5a5d68" font-weight="normal" text-anchor="start" textLength="21.5" lengthAdjust="spacingAndGlyphs">May</text>
<text x="928.7" y="811.9" font-size="12.5" fill="#5a5d68" font-weight="normal" text-anchor="start" textLength="12" lengthAdjust="spacingAndGlyphs">16</text>
<text x="1017.2" y="811.9" font-size="12.5" fill="#5a5d68" font-weight="normal" text-anchor="start" textLength="18.5" lengthAdjust="spacingAndGlyphs">Jun</text>
<text x="1172.5" y="811.9" font-size="12.5" fill="#5a5d68" font-weight="normal" text-anchor="start" textLength="15.5" lengthAdjust="spacingAndGlyphs">Jul</text>
<text x="1258.6" y="811.9" font-size="12.5" fill="#5a5d68" font-weight="normal" text-anchor="start" textLength="12" lengthAdjust="spacingAndGlyphs">16</text>
<text x="1346.1" y="811.9" font-size="12.5" fill="#5a5d68" font-weight="normal" text-anchor="start" textLength="21" lengthAdjust="spacingAndGlyphs">Aug</text>
<g fill="#131722"><path d="M9.9 834 H18.2 V843.9 H14 V838 H9.9 Z"/><circle cx="21.6" cy="836" r="2"/><path d="M25.3 834 H29.7 L25.2 843.9 H20.8 Z"/></g>
<text x="33.3" y="843.9" font-size="12.5" fill="#131722" font-weight="normal" text-anchor="start" textLength="70" lengthAdjust="spacingAndGlyphs">TradingView</text>
<defs><filter id="wsh" x="-10%" y="-10%" width="120%" height="130%"><feGaussianBlur in="SourceAlpha" stdDeviation="0.8" result="b"/><feOffset in="b" dx="-1.5" dy="2" result="o"/><feComposite in="o" in2="SourceAlpha" operator="out" result="s"/><feColorMatrix in="s" type="matrix" values="0 0 0 0 0.25  0 0 0 0 0.25  0 0 0 0 0.25  0 0 0 1 0" result="sc"/><feMerge><feMergeNode in="sc"/><feMergeNode in="SourceGraphic"/></feMerge></filter><filter id="zsh" x="-10%" y="-10%" width="130%" height="130%"><feDropShadow dx="1.3" dy="1.5" stdDeviation="0.7" flood-color="#666" flood-opacity="0.8"/></filter></defs>
<g opacity="0.86"><g filter="url(#wsh)" fill="#ffffff">
<polygon points="1281,765 1292,765 1290,780 1279,780"/>
<polygon points="1296,765 1334,765 1332,774 1294,774"/>
<polygon points="1276,784 1290,784 1288,793 1274,793"/>
<polygon points="1283,797 1292,797 1280,821 1268,821"/>
<path d="M1296,776 1331,776 1323,819 1286,819 1296,776 Z M1301,783 1318,783 1316,793 1299,793 Z M1296,800 1314,800 1312,810 1294,810Z" fill-rule="evenodd"/>
<polygon points="1342,765 1392,765 1390,773 1340,773"/>
<polygon points="1385,765 1392,765 1380,819 1373,819"/>
<polygon points="1343,773 1350,773 1348,787 1341,787"/>
<polygon points="1334,786 1386,786 1384,795 1332,795"/>
<polygon points="1332,800 1375,800 1373,808 1330,808"/>
<polygon points="1355,812 1380,812 1378,820 1353,820"/>
<polygon points="1391,766 1398,766 1388,816 1381,816"/>
<polygon points="1421,766 1428,766 1420,804 1413,804"/>
<polygon points="1391,766 1428,766 1426,774 1389,774"/>
<polygon points="1407,774 1413,774 1405,808 1399,808"/>
<polygon points="1400,806 1408,806 1395,820 1387,820"/>
<polygon points="1413,806 1420,806 1428,818 1420,818"/>
<polygon points="1425,782 1460,782 1458,790 1423,790"/>
<polygon points="1441,766 1448,766 1437,820 1430,820"/>
<polygon points="1440,792 1447,792 1425,815 1418,812"/>
<polygon points="1468,765 1476,765 1460,785 1452,785"/>
<polygon points="1462,783 1470,783 1454,803 1446,803"/>
<polygon points="1447,803 1470,800 1468,808 1445,811"/>
<polygon points="1484,765 1513,765 1511,773 1482,773"/>
<polygon points="1503,773 1512,773 1490,792 1478,792"/>
<polygon points="1482,778 1490,778 1507,792 1497,792"/>
<polygon points="1453,798 1510,798 1508,806 1451,806"/>
<polygon points="1490,795 1497,795 1492,818 1485,818"/>
<polygon points="1449,813 1502,813 1500,821 1447,821"/>
</g></g>
<g filter="url(#zsh)" font-size="33" font-weight="bold" font-style="italic" fill="#a5a5fa" stroke="#a5a5fa" stroke-width="1.3">
<text x="1280" y="851">z</text>
<text x="1307" y="851">z</text>
<text x="1336" y="851">r</text>
<text x="1361" y="851">t</text>
<text x="1380" y="851">0</text>
<text x="1413" y="851">1</text>
<text x="1437" y="851">.</text>
<text x="1458" y="851">c</text>
<text x="1482" y="851">n</text>
</g>
</svg>
</body></html>
